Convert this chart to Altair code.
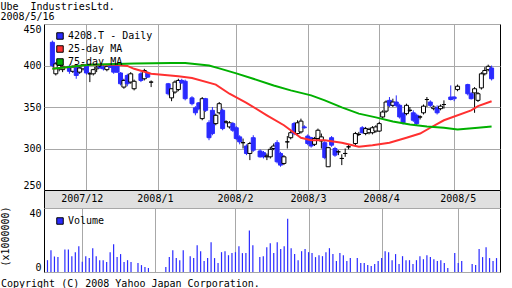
import altair as alt
import pandas as pd

FONT = "DejaVu Sans Mono"
BLUE = "#2a2aff"
RED = "#ff3030"
GREEN = "#00b000"
GRID = "#a8a8a8"
BAND = "#e0e0e0"

# ---------------- data ----------------
first_day = "2007-11-19"
last_day = "2008-05-16"
holidays = ["2007-11-23", "2007-12-24", "2007-12-31", "2008-01-01", "2008-01-02",
            "2008-01-03", "2008-01-14", "2008-02-11", "2008-03-20", "2008-04-29",
            "2008-05-05", "2008-05-06"]

open_ = [428, 390, 396, 395, 399, 393, 400, 392, 396, 401, 390, 390, 396, 401, 398, 395, 400, 402,
         400, 391, 374, 388, 380, 372, 390, 384, 391, 380,
         378, 361, 368, 371, 382, 381,
         361, 349, 355, 336, 360, 331, 346, 330, 343, 346, 332, 326, 330, 325, 314, 307, 303, 294, 313,
         297, 295, 290, 290, 300, 307, 294, 282, 308, 313, 330, 318, 320, 326, 315, 313, 305, 312, 309,
         307, 278, 313, 300, 296, 288, 294, 302,
         306, 317, 325, 318, 319, 319, 321, 321, 338, 345, 358, 352, 356, 352, 342, 342, 346, 343, 340,
         338, 343, 359, 356, 348, 349, 348, 353,
         362, 362, 371,
         377, 366, 367, 358, 373, 390, 395, 397]
high = [430, 404, 402, 402, 401, 400, 401, 398, 402, 402, 392, 396, 400, 402, 401, 400, 402, 403,
        401, 392, 384, 390, 392, 383, 392, 396, 393, 382,
        379, 372, 382, 384, 384, 383,
        363, 351, 356, 362, 361, 334, 350, 342, 356, 348, 334, 333, 332, 327, 316, 312, 305, 308, 316,
        299, 297, 294, 302, 306, 310, 296, 292, 315, 321, 332, 334, 336, 328, 317, 314, 314, 324, 318,
        310, 302, 315, 302, 298, 293, 300, 305,
        320, 320, 327, 326, 325, 327, 328, 332, 346, 358, 362, 360, 364, 354, 344, 354, 350, 346, 342,
        340, 353, 362, 358, 352, 352, 353, 358,
        376, 363, 377,
        378, 368, 374, 368, 392, 398, 401, 400]
low = [398, 388, 393, 392, 390, 391, 384, 390, 394, 389, 380, 388, 392, 396, 394, 393, 397, 390,
       391, 376, 372, 375, 378, 370, 380, 382, 385, 374,
       364, 357, 366, 369, 378, 358,
       352, 340, 346, 334, 344, 310, 316, 328, 341, 322, 330, 324, 320, 310, 305, 300, 292, 286, 296,
       289, 288, 286, 288, 298, 282, 278, 280, 300, 311, 316, 316, 318, 324, 304, 301, 303, 310, 300,
       287, 278, 302, 290, 292, 280, 290, 299,
       304, 315, 318, 316, 317, 317, 319, 320, 336, 343, 350, 350, 350, 336, 329, 340, 344, 332, 328,
       335, 341, 350, 350, 346, 341, 346, 348,
       358, 357, 369,
       364, 359, 343, 356, 371, 388, 393, 382]
close = [400, 402, 400, 399, 393, 398, 388, 397, 401, 391, 390, 395, 398, 397, 396, 399, 398, 392,
         392, 378, 382, 378, 390, 381, 382, 394, 386, 380,
         366, 372, 380, 382, 379, 360,
         354, 343, 348, 360, 346, 313, 318, 340, 354, 324, 332, 331, 322, 312, 308, 307, 294, 306, 298,
         290, 290, 291, 299, 303, 284, 280, 290, 308, 319, 318, 331, 333, 325, 306, 303, 312, 322, 314,
         289, 301, 304, 292, 296, 288, 294, 302,
         318, 317, 319, 324, 323, 325, 326, 330, 344, 356, 352, 356, 352, 338, 331, 352, 346, 334, 330,
         338, 351, 359, 352, 350, 343, 351, 353,
         359, 360, 375,
         366, 360, 372, 366, 390, 394, 399, 384]
volume = [7.4, 13.6, 9.7, 9.3, 14.1, 14.1, 9.9, 12.4, 16.1, 6.4, 9.9, 8.7, 14.9, 9.9, 7.4, 7.4, 6.2, 12.4,
          17.4, 9.3, 11.2, 6.2, 7.4, 6.2, 5.6, 4.3, 3.1, 2.5,
          3.1, 9.3, 13.6, 8.7, 7.4, 13.6,
          9.9, 8.7, 16.7, 13.0, 6.8, 8.7, 18.6, 8.7, 5.6, 12.4, 13.0, 10.5, 11.8, 12.4, 16.1, 11.8, 11.8,
          26.0, 16.7,
          9.3, 9.9, 15.5, 18.0, 11.8, 18.6, 14.3, 16.1, 33.3, 14.9, 11.2, 7.4, 13.0, 14.3, 12.4, 11.8, 9.3,
          10.5, 9.9, 12.4, 14.9, 11.2, 6.8, 11.8, 10.5, 6.8, 8.7,
          8.7, 5.6, 5.6, 4.3, 3.7, 5.0, 6.8, 8.7, 13.0, 12.4, 7.4, 11.2, 5.0, 9.9, 7.4, 7.4, 5.0, 7.4, 9.9,
          8.0, 10.5, 9.3, 8.0, 6.8, 7.4, 5.6, 2.5,
          11.8, 5.6, 6.8,
          5.0, 4.3, 14.3, 9.3, 15.5, 8.7, 6.8, 8.7]

ma25_dates = ["2007-11-19", "2007-12-04", "2007-12-11", "2007-12-14", "2007-12-19", "2007-12-21",
              "2007-12-28", "2008-01-09", "2008-01-15", "2008-01-24", "2008-01-30", "2008-02-06",
              "2008-02-14", "2008-02-21", "2008-02-28", "2008-03-04", "2008-03-10", "2008-03-17",
              "2008-03-24", "2008-03-28", "2008-04-04", "2008-04-11", "2008-04-17", "2008-04-22",
              "2008-04-28", "2008-05-08", "2008-05-12", "2008-05-16"]
ma25 = [396, 401, 401, 401, 399.5, 396, 390, 387, 385, 377, 366, 355, 340, 328, 313, 310, 310, 307,
        302, 304, 307, 313, 318, 325, 334, 346, 351, 357]
ma75_dates = ["2007-11-19", "2007-12-04", "2007-12-21", "2008-01-07", "2008-01-11", "2008-01-22",
              "2008-01-25", "2008-02-01", "2008-02-08", "2008-02-18", "2008-02-25", "2008-03-04",
              "2008-03-10", "2008-03-17", "2008-03-24", "2008-03-31", "2008-04-07", "2008-04-14",
              "2008-04-21", "2008-04-28", "2008-05-02", "2008-05-12", "2008-05-16"]
ma75 = [396, 401, 402.5, 403, 403, 400, 396.5, 390.5, 384, 376, 370, 364, 358, 349.5, 342, 337.5,
        332.5, 329, 326.5, 325, 323, 325, 326.5]

month_labels = ["2007/12", "2008/1", "2008/2", "2008/3", "2008/4", "2008/5"]
month_starts = ["2007-12-03", "2008-01-01", "2008-02-01", "2008-03-03", "2008-04-01", "2008-05-01"]

price_legend = ["4208.T - Daily", "25-day MA", "75-day MA"]
volume_legend = ["Volume"]

title_lines = ["Ube\u00a0 IndustriesLtd.", "2008/5/16"]
copyright_text = "Copyright (C) 2008 Yahoo Japan Corporation."

# ---------------- tables ----------------
weekdays = pd.bdate_range(first_day, last_day).strftime("%Y-%m-%d").tolist()
slot = {d: k for k, d in enumerate(weekdays)}
trading = [d for d in weekdays if d not in holidays]

df = pd.DataFrame({"date": trading, "open": open_, "high": high, "low": low,
                   "close": close, "volume": volume})
df["i"] = df["date"].map(slot)
ma25_df = pd.DataFrame({"i": [slot[d] for d in ma25_dates], "v": ma25})
ma75_df = pd.DataFrame({"i": [slot[d] for d in ma75_dates], "v": ma75})
month_idx = [slot[d] for d in month_starts]
month_df = pd.DataFrame({"i": month_idx, "label": month_labels})

W = 456
xscale = alt.Scale(domain=[-1, 130], nice=False, zero=False)
xgrid = alt.Axis(values=month_idx, grid=True, labels=False, ticks=False, domain=False,
                 title=None, gridColor=GRID, gridOpacity=1)
X = alt.X("i:Q", scale=xscale, axis=xgrid)

pscale = alt.Scale(domain=[250, 450], nice=False, zero=False)
paxis = alt.Axis(values=[250, 300, 350, 400, 450], grid=True, ticks=False, domain=False,
                 labelFlush=True, labelPadding=3, title=None, gridColor=GRID, gridOpacity=1)
up = "datum.close >= datum.open"

wicks = alt.Chart(df).mark_rule(strokeWidth=1).encode(
    x=X, y=alt.Y("low:Q", scale=pscale, axis=paxis), y2="high:Q",
    color=alt.condition(up, alt.value("black"), alt.value(BLUE)))
bodies = alt.Chart(df).mark_bar(size=4, strokeWidth=1).encode(
    x=X, y=alt.Y("open:Q", scale=pscale, axis=paxis), y2="close:Q",
    fill=alt.condition(up, alt.value("white"), alt.value(BLUE)),
    stroke=alt.condition(up, alt.value("black"), alt.value(BLUE)))
line25 = alt.Chart(ma25_df).mark_line(color=RED, strokeWidth=2).encode(
    x=X, y=alt.Y("v:Q", scale=pscale, axis=paxis))
line75 = alt.Chart(ma75_df).mark_line(color=GREEN, strokeWidth=2).encode(
    x=X, y=alt.Y("v:Q", scale=pscale, axis=paxis))

legend_style = dict(orient="none", title=None, symbolType="square", symbolSize=42,
                    symbolStrokeColor="black", symbolStrokeWidth=1, symbolOpacity=1,
                    labelFont=FONT, labelFontSize=10, labelColor="black", labelOffset=3,
                    padding=0, rowPadding=1)
plegend = alt.Chart(pd.DataFrame({"series": price_legend})).mark_square(size=42, clip=True).encode(
    x=alt.datum(-60, scale=xscale), y=alt.datum(300, scale=pscale),
    color=alt.Color("series:N", scale=alt.Scale(domain=price_legend, range=[BLUE, RED, GREEN]),
                    legend=alt.Legend(legendX=11, legendY=7, **legend_style)))

price = alt.layer(wicks, bodies, line25, line75, plegend).properties(width=W, height=166)

band = alt.Chart(month_df).mark_text(font=FONT, fontSize=10, baseline="middle", color="black").encode(
    x=alt.X("i:Q", scale=xscale, axis=None), y=alt.value(9), text="label:N"
).properties(width=W, height=18, view=alt.ViewBackground(fill=BAND, stroke="black"))

vscale = alt.Scale(domain=[0, 40], nice=False, zero=True)
vaxis = alt.Axis(values=[0, 10, 20, 30, 40], grid=True, ticks=False, domain=False, labelFlush=True,
                 labelPadding=3, title="(x1000000)", titleFont=FONT, titleFontSize=10,
                 titleFontWeight="normal", titleColor="black", titlePadding=18, titleY=28,
                 gridColor=GRID, gridOpacity=1)
vbars = alt.Chart(df).mark_rule(strokeWidth=1.2, color=BLUE).encode(
    x=X, y=alt.Y("volume:Q", scale=vscale, axis=vaxis), y2=alt.datum(0))
vlegend = alt.Chart(pd.DataFrame({"series": volume_legend})).mark_square(size=42, clip=True).encode(
    x=alt.datum(-60, scale=xscale), y=alt.datum(20, scale=vscale),
    color=alt.Color("series:N", scale=alt.Scale(domain=volume_legend, range=[BLUE]),
                    legend=alt.Legend(legendX=11, legendY=8, **legend_style)))
vol = alt.layer(vbars, vlegend).properties(
    width=W, height=64,
    title=alt.TitleParams(copyright_text, orient="bottom", anchor="start", font=FONT, fontSize=10,
                          fontWeight="normal", color="black", offset=6))

chart = alt.vconcat(price, band, vol, spacing=0, bounds="flush").resolve_scale(
    color="independent").resolve_legend(color="independent").properties(
    title=alt.TitleParams(title_lines, anchor="start", font=FONT, fontSize=10, fontWeight="normal",
                          color="black", lineHeight=10, offset=2),
    padding={"left": 0, "top": 1, "right": 0, "bottom": 0},
    background="white",
).configure_view(stroke="black", strokeWidth=1, fill="white").configure_axis(
    labelFont=FONT, labelFontSize=10, labelColor="black")

chart.save("out.html", embed_options={"renderer": "svg", "actions": False})
